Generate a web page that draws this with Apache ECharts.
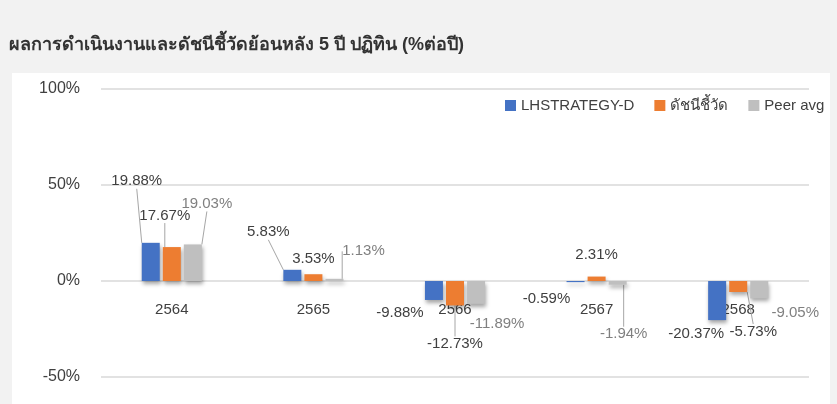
<!DOCTYPE html>
<html>
<head>
<meta charset="utf-8">
<script src="https://cdn.jsdelivr.net/npm/echarts@6/dist/echarts.min.js"></script>
<style>
  html, body { margin: 0; padding: 0; background: #f2f2f2; }
  #main { width: 837px; height: 404px; }
</style>
</head>
<body>
<div id="main"></div>
<script>
// ข้อมูลผลการดำเนินงาน (%ต่อปี)
const years = ["2564", "2565", "2566", "2567", "2568"];
const fundReturns = [19.88, 5.83, -9.88, -0.59, -20.37];
const benchmarkReturns = [17.67, 3.53, -12.73, 2.31, -5.73];
const peerReturns = [19.03, 1.13, -11.89, -1.94, -9.05];
const seriesNames = ["LHSTRATEGY-D", "ดัชนีชี้วัด", "Peer avg"];
const yTicks = [-50, 0, 50, 100];

// label offsets (dx, dy) from the default outside position, per year
const fundOffsets = [[-14, -49], [-24, -25], [-34, 0], [-29, 4], [-21, 1]];
const benchOffsets = [[-7, -19], [0, -3], [0, 26], [0, -9], [15, 27]];
const peerOffsets = [[14, -28], [29, -15], [21, 8], [6, 37], [36, 2]];
// which labels get a leader line
const fundLines = [true, true, false, false, false];
const benchLines = [true, false, true, false, true];
const peerLines = [true, true, false, true, false];

const font = "'Liberation Sans', 'Noto Sans', sans-serif";

function makeSeries(name, values, color, labelColor, offsets, lines) {
  return {
    name: name,
    type: "bar",
    data: values.map((v, i) => ({ value: v, labelLine: { show: lines[i] } })),
    barWidth: 18,
    barGap: "17%",
    itemStyle: {
      color: color,
      shadowColor: "rgba(0,0,0,0.35)",
      shadowBlur: 4,
      shadowOffsetX: 1,
      shadowOffsetY: 3
    },
    label: {
      show: true,
      position: "outside",
      distance: 5,
      fontFamily: font,
      fontSize: 15,
      color: labelColor,
      formatter: p => p.value.toFixed(2) + "%"
    },
    labelLine: {
      show: true,
      lineStyle: { color: "#a6a6a6", width: 1 }
    },
    labelLayout: p => ({ dx: offsets[p.dataIndex][0], dy: offsets[p.dataIndex][1] })
  };
}

let chart = echarts.init(document.getElementById("main"));
chart.setOption({
  backgroundColor: "#f2f2f2",
  animation: false,
  graphic: [
    {
      type: "rect",
      left: 12,
      top: 73,
      shape: { width: 818, height: 340 },
      style: { fill: "#ffffff" },
      z: -10
    }
  ],
  title: {
    text: "ผลการดำเนินงานและดัชนีชี้วัดย้อนหลัง 5 ปี ปฏิทิน (%ต่อปี)",
    left: 4,
    top: 31,
    textStyle: {
      fontFamily: font,
      fontSize: 18,
      fontWeight: "bold",
      color: "#333333"
    }
  },
  legend: {
    data: seriesNames,
    left: 500,
    top: 93,
    itemWidth: 11,
    itemHeight: 11,
    itemGap: 20,
    icon: "rect",
    textStyle: { fontFamily: font, fontSize: 15, color: "#404040" }
  },
  grid: {
    left: 101,
    right: 28,
    top: 89,
    bottom: 27,
    containLabel: false,
    outerBoundsMode: "none"
  },
  xAxis: {
    type: "category",
    data: years,
    offset: -96,
    axisLine: { show: false, onZero: false },
    axisTick: { show: false },
    axisLabel: {
      fontFamily: font,
      fontSize: 15,
      color: "#404040",
      margin: 21
    }
  },
  yAxis: {
    type: "value",
    min: yTicks[0],
    max: yTicks[yTicks.length - 1],
    interval: 50,
    axisLine: { show: false },
    axisTick: { show: false },
    splitLine: { lineStyle: { color: "#d9d9d9", width: 1.5 } },
    axisLabel: {
      fontFamily: font,
      fontSize: 16,
      color: "#404040",
      margin: 21,
      formatter: v => v + "%"
    }
  },
  series: [
    makeSeries(seriesNames[0], fundReturns, "#4472c4", "#404040", fundOffsets, fundLines),
    makeSeries(seriesNames[1], benchmarkReturns, "#ed7d31", "#404040", benchOffsets, benchLines),
    makeSeries(seriesNames[2], peerReturns, "#bfbfbf", "#808080", peerOffsets, peerLines)
  ]
});
</script>
</body>
</html>
